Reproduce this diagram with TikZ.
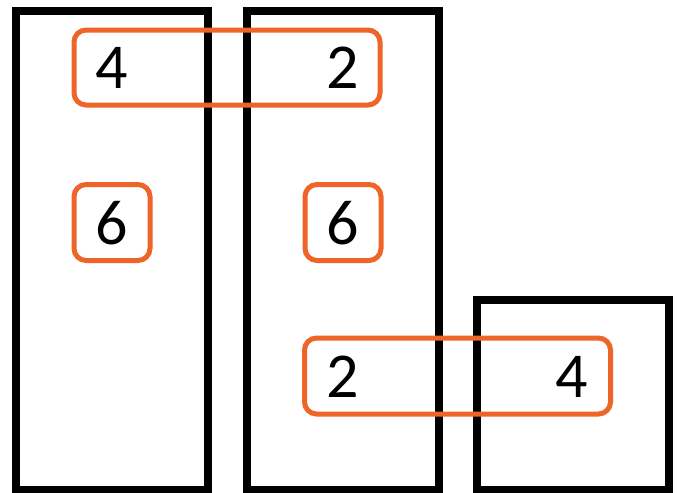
\documentclass[tikz,border=0pt]{standalone}
\usepackage{fontspec}
\setmainfont{Carlito}
\usepackage{xcolor}
\definecolor{hlorange}{HTML}{EF6428}
\usetikzlibrary{positioning}

\begin{document}
\begin{tikzpicture}[x=1pt, y=-1pt,
    col/.style={draw=black, line width=8pt, rectangle, inner sep=0pt, outer sep=0pt},
    hl/.style={draw=hlorange, line width=5pt, rounded corners=12pt, rectangle, inner sep=0pt, outer sep=0pt},
    num/.style={font=\fontsize{64}{64}\selectfont, inner sep=0pt}]

    \useasboundingbox (0,0) rectangle (678,493);

    % --- Columns ---
    \node[col, minimum width=192pt, minimum height=479pt] (colA) at (112,250.5) {};
    \node[col, minimum width=192pt, minimum height=479pt] (colB) at (342.5,250.5) {};
    \node[col, minimum width=192.5pt, minimum height=190.5pt] (colC) at (572.75,394.75) {};

    % --- Orange groupings ---
    \node[hl, minimum width=306pt, minimum height=75pt] (grpTop) at (227,67.5) {};
    \node[hl, minimum width=76pt, minimum height=76pt] (grpA) at (112,222.5) {};
    \node[hl, minimum width=76pt, minimum height=76pt] (grpB) at (343,222.5) {};
    \node[hl, minimum width=306pt, minimum height=76pt] (grpBot) at (457.5,376) {};

    % --- Numbers ---
    \node[num] (a1) at (112,68) {4};
    \node[num] (b1) at (343,68) {2};
    \node[num] (a2) at (112,223) {6};
    \node[num] (b2) at (343,223) {6};
    \node[num] (b3) at (343,377) {2};
    \node[num] (c1) at (572,377) {4};

\end{tikzpicture}
\end{document}
